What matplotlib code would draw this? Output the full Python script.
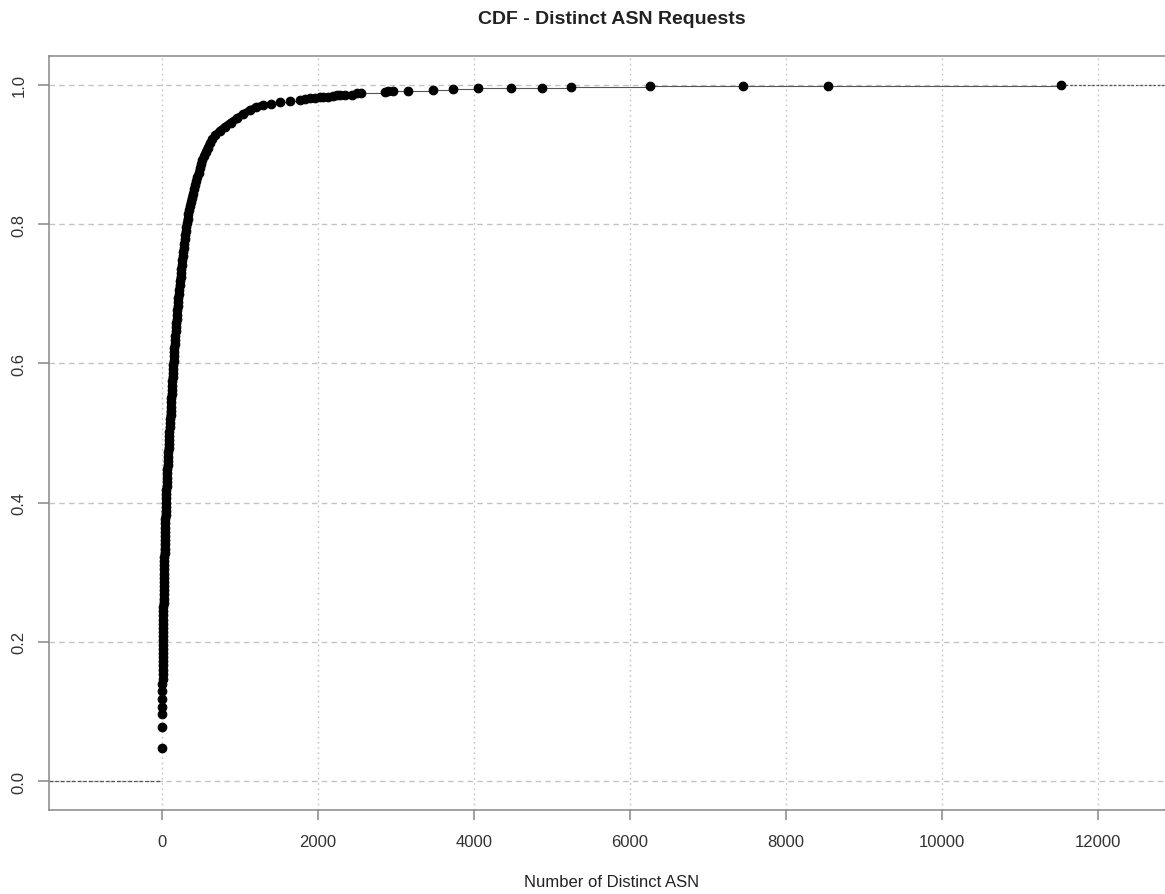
import matplotlib.pyplot as plt

# ECDF points (number of distinct ASN, cumulative share)
asn_low = [0, 1, 2, 3, 4, 5, 6, 7, 8]
cdf_low = [0.048, 0.077, 0.096, 0.106, 0.118, 0.130, 0.139, 0.147, 0.154]

asn_mid = [9, 9.5, 10, 10.5, 11, 11.5, 12, 12.5, 13, 14, 15, 15.5, 16, 17, 17.5, 18,
           19, 20, 21, 22, 23, 24, 25, 26, 27, 28, 29, 31, 32, 34, 35, 36, 38, 39, 41,
           42, 44, 45, 47, 48, 50, 52, 54, 57, 59, 62, 64, 67, 69, 72, 75, 78, 81, 84,
           87, 90, 92, 95, 99, 102, 105, 109, 112, 115, 118, 121, 124, 127, 130, 133,
           136, 139, 142, 145, 149, 152, 156, 160, 164, 168, 172, 176, 180, 184, 188,
           193, 197, 202, 206, 211, 215, 221, 226, 232, 238, 243, 249, 255, 261, 267,
           273, 279, 286, 293, 299, 306, 312, 319, 328, 338, 348, 358, 370, 382, 396,
           410, 425, 440, 454, 470, 486, 501, 518, 538, 560, 584, 612, 645, 685, 740,
           808, 880, 962, 1040, 1130, 1210, 1300]
cdf_mid = [0.160, 0.166, 0.172, 0.178, 0.184, 0.190, 0.196, 0.202, 0.208, 0.214,
           0.220, 0.226, 0.232, 0.238, 0.244, 0.250, 0.256, 0.262, 0.268, 0.274,
           0.280, 0.286, 0.292, 0.298, 0.304, 0.310, 0.316, 0.322, 0.328, 0.334,
           0.340, 0.346, 0.352, 0.358, 0.364, 0.370, 0.376, 0.382, 0.388, 0.394,
           0.400, 0.406, 0.412, 0.418, 0.424, 0.430, 0.436, 0.442, 0.448, 0.454,
           0.460, 0.466, 0.472, 0.478, 0.484, 0.490, 0.496, 0.502, 0.508, 0.514,
           0.520, 0.526, 0.532, 0.538, 0.544, 0.550, 0.556, 0.562, 0.568, 0.574,
           0.580, 0.586, 0.592, 0.598, 0.604, 0.610, 0.616, 0.622, 0.628, 0.634,
           0.640, 0.646, 0.652, 0.658, 0.664, 0.670, 0.676, 0.682, 0.688, 0.694,
           0.700, 0.706, 0.712, 0.718, 0.724, 0.730, 0.736, 0.742, 0.748, 0.754,
           0.760, 0.766, 0.772, 0.778, 0.784, 0.790, 0.796, 0.802, 0.808, 0.814,
           0.820, 0.826, 0.832, 0.838, 0.844, 0.850, 0.856, 0.862, 0.868, 0.874,
           0.880, 0.886, 0.892, 0.898, 0.904, 0.910, 0.916, 0.922, 0.928, 0.934,
           0.940, 0.946, 0.952, 0.958, 0.964, 0.968, 0.971]

asn_tail = [1400, 1513, 1640, 1769, 1833, 1900, 1962, 2026, 2068, 2130, 2196, 2240,
            2282, 2350, 2432, 2500, 2551, 2859, 2900, 2966, 3158, 3479, 3735, 4056,
            4474, 4867, 5239, 6253, 7454, 8544, 11530]
cdf_tail = [0.973, 0.975, 0.977, 0.979, 0.980, 0.981, 0.981, 0.982, 0.982, 0.983,
            0.984, 0.985, 0.986, 0.986, 0.986, 0.988, 0.989, 0.990, 0.991, 0.992,
            0.992, 0.993, 0.994, 0.995, 0.996, 0.996, 0.997, 0.998, 0.998, 0.999, 1.0]

x = asn_low + asn_mid + asn_tail
y = cdf_low + cdf_mid + cdf_tail

xticks = [0, 2000, 4000, 6000, 8000, 10000, 12000]
yticks = [0.0, 0.2, 0.4, 0.6, 0.8, 1.0]

plt.rcParams['font.family'] = ['Liberation Sans', 'DejaVu Sans']

fig = plt.figure(figsize=(11.65, 8.95), dpi=100)
ax = fig.add_axes([0.04206, 0.09385, 0.9665, 0.8425])
xmin, xmax = -1449, 12987
ax.set_xlim(xmin, xmax)
ax.set_ylim(-0.04167, 1.04167)

# grid: dashed horizontals, dotted verticals
for yv in yticks:
    ax.axhline(yv, color='#c4c4c4', lw=1.0, ls=(0, (4, 3)), zorder=0)
for xv in xticks:
    ax.axvline(xv, color='#c4c4c4', lw=1.0, ls=(0, (1.2, 2.5)), zorder=0)

# step segments
ax.hlines(y[:-1], x[:-1], x[1:], color='#555555', lw=0.8, zorder=1)
ax.hlines(0, xmin, x[0], color='#555555', lw=0.9, ls=(0, (3, 1.5)), zorder=1)
ax.hlines(1, x[-1], xmax, color='#555555', lw=0.9, ls=(0, (2, 1.5)), zorder=1)

# dense part of the curve: points overlap into one solid band
ax.plot(asn_mid, cdf_mid, '-', color='black', lw=5.5, solid_capstyle='round', zorder=2)
ax.plot(x, y, 'o', color='black', markersize=6.2, markeredgewidth=0.8, zorder=3)

for side in ['left', 'bottom', 'top']:
    ax.spines[side].set_color('#888888')
    ax.spines[side].set_linewidth(1.1)
ax.spines['right'].set_visible(False)

ax.set_xticks(xticks)
ax.set_xticklabels([str(t) for t in xticks])
ax.set_yticks(yticks)
ax.set_yticklabels(['%.1f' % t for t in yticks], rotation=90, va='center')
ax.tick_params(axis='x', length=7, width=1.1, color='#888888', pad=10,
               labelsize=12, labelcolor='#333333')
ax.tick_params(axis='y', length=8, width=1.1, color='#888888', pad=8,
               labelsize=12, labelcolor='#333333')

fig.text(0.525, 0.9777, 'CDF - Distinct ASN Requests', ha='center', va='center',
         fontsize=14, fontweight='bold', color='#222222')
fig.text(0.525, 0.0145, 'Number of Distinct ASN', ha='center', va='center',
         fontsize=12, color='#222222')

fig.savefig('out.png', dpi=100)
